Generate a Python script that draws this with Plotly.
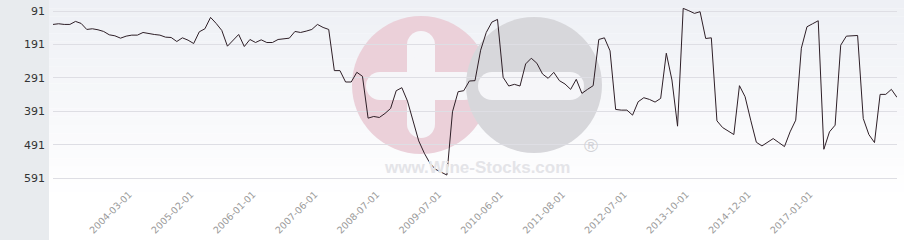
import plotly.graph_objects as go

DATES = [
    "2003-02-01", "2003-03-01", "2003-04-01", "2003-05-01", "2003-06-01", "2003-07-01", "2003-08-01",
    "2003-09-01", "2003-10-01", "2003-11-01", "2003-12-01", "2004-01-01", "2004-02-01", "2004-03-01",
    "2004-04-01", "2004-05-01", "2004-06-01", "2004-07-01", "2004-08-01", "2004-09-01", "2004-10-01",
    "2004-11-01", "2004-12-01", "2005-01-01", "2005-02-01",
    "2005-03-01", "2005-04-01", "2005-05-01", "2005-06-01", "2005-07-01", "2005-08-01", "2005-09-01",
    "2005-10-01", "2005-11-01", "2005-12-01", "2006-01-01",
    "2006-03-01", "2006-05-01", "2006-06-01", "2006-08-01", "2006-10-01", "2006-11-01", "2007-01-01",
    "2007-02-01", "2007-03-01", "2007-05-01", "2007-06-01",
    "2007-07-01", "2007-08-01", "2007-10-01", "2007-11-01", "2007-12-01", "2008-01-01", "2008-02-01",
    "2008-03-01", "2008-05-01", "2008-06-01", "2008-07-01",
    "2008-08-01", "2008-09-01", "2008-10-01", "2008-11-01", "2008-12-01", "2009-01-01", "2009-02-01",
    "2009-03-01", "2009-05-01", "2009-06-01", "2009-07-01",
    "2009-08-01", "2009-09-01", "2009-10-01", "2009-11-01", "2009-12-01", "2010-01-01", "2010-02-01",
    "2010-03-01", "2010-04-01", "2010-05-01", "2010-06-01",
    "2010-07-01", "2010-08-01", "2010-09-01", "2010-11-01", "2010-12-01", "2011-01-01", "2011-02-01",
    "2011-03-01", "2011-05-01", "2011-07-01", "2011-08-01",
    "2011-09-01", "2011-10-01", "2011-11-01", "2011-12-01", "2012-01-01", "2012-02-01", "2012-03-01",
    "2012-04-01", "2012-05-01", "2012-06-01", "2012-07-01",
    "2012-08-01", "2012-09-01", "2012-11-01", "2012-12-01", "2013-01-01", "2013-02-01", "2013-04-01",
    "2013-05-01", "2013-06-01", "2013-08-01", "2013-10-01",
    "2013-11-01", "2013-12-01", "2014-01-01", "2014-02-01", "2014-03-01", "2014-05-01", "2014-06-01",
    "2014-08-01", "2014-09-01", "2014-11-01", "2014-12-01",
    "2015-02-01", "2015-05-01", "2015-07-01", "2015-09-01", "2015-12-01", "2016-02-01", "2016-04-01",
    "2016-06-01", "2016-08-01", "2016-11-01", "2017-01-01",
    "2017-02-01", "2017-03-01", "2017-04-01", "2017-06-01", "2017-07-01", "2017-08-01", "2017-10-01",
    "2017-11-01", "2018-01-01", "2018-02-01", "2018-03-01", "2018-05-01", "2018-06-01", "2018-08-01",
    "2018-09-01", "2018-11-01",
]

RANKS = [
    131, 129, 131, 131, 122, 128, 146, 144, 147, 152,
    162, 165, 172, 166, 163, 163, 155, 159, 161, 163,
    169, 170, 182, 171, 178, 188, 153, 144, 110, 128,
    149, 196, 178, 161, 197, 176, 185, 177, 185, 185,
    176, 173, 172, 152, 155, 151, 146, 131, 140, 146,
    269, 269, 303, 303, 274, 286, 411, 406, 409, 397,
    382, 329, 320, 360, 417, 479, 516, 546, 564, 572,
    581, 392, 332, 329, 300, 299, 208, 155, 124, 116,
    289, 315, 310, 315, 249, 232, 247, 279, 292, 274,
    299, 309, 325, 295, 337, 325, 314, 176, 171, 210,
    385, 387, 387, 402, 362, 350, 355, 363, 352, 217,
    297, 435, 83, 90, 98, 93, 173, 171, 419, 439,
    450, 460, 314, 347, 417, 483, 494, 484, 472, 484,
    496, 452, 417, 202, 138, 129, 120, 504, 452, 432,
    193, 166, 165, 164, 412, 460, 484, 340, 340, 325,
    349,
]

X_TICKS = ["2004-03-01", "2005-02-01", "2006-01-01", "2007-06-01", "2008-07-01", "2009-07-01",
           "2010-06-01", "2011-08-01", "2012-07-01", "2013-10-01", "2014-12-01", "2017-01-01"]
Y_TICKS = [91, 191, 291, 391, 491, 591]

W, H = 904, 240
ML, MR, MT, MB = 53, 7, 0, 54
PW, PH = W - ML - MR, H - MT - MB
Y_TOP = 58.0
PX_PER_UNIT = 0.3347
Y_BOTTOM = Y_TOP + PH / PX_PER_UNIT


def px(x):
    return (x - ML) / PW


def py(y):
    return 1 - (y - MT) / PH


shapes = []
shapes.append(dict(type="rect", xref="paper", yref="paper", x0=px(0), x1=px(49), y0=py(H), y1=py(0),
                   fillcolor="#e8ebee", line=dict(width=0), layer="below"))
top = (238, 240, 245)
nb = 24
for k in range(nb):
    t = k / (nb - 1)
    c = tuple(round(top[j] + (255 - top[j]) * t) for j in range(3))
    y0 = 200 * k / nb
    y1 = 200 * (k + 1) / nb
    shapes.append(dict(type="rect", xref="paper", yref="paper", x0=px(49), x1=px(W), y0=py(y1), y1=py(y0),
                       fillcolor="rgb(%d,%d,%d)" % c, line=dict(width=0), layer="below"))


def circle(cx, cy, r, color):
    shapes.append(dict(type="circle", xref="paper", yref="paper", x0=px(cx - r), x1=px(cx + r),
                       y0=py(cy + r), y1=py(cy - r), fillcolor=color, line=dict(width=0), layer="below"))


def bar(x0, x1, y0, y1, color):
    horiz = (x1 - x0) > (y1 - y0)
    r = min(x1 - x0, y1 - y0) / 2
    shapes.append(dict(type="rect", xref="paper", yref="paper",
                       x0=px(x0 + (r if horiz else 0)), x1=px(x1 - (r if horiz else 0)),
                       y0=py(y1 - (0 if horiz else r)), y1=py(y0 + (0 if horiz else r)),
                       fillcolor=color, line=dict(width=0), layer="below"))
    if horiz:
        circle(x0 + r, (y0 + y1) / 2, r, color)
        circle(x1 - r, (y0 + y1) / 2, r, color)
    else:
        circle((x0 + x1) / 2, y0 + r, r, color)
        circle((x0 + x1) / 2, y1 - r, r, color)


WHITE = "#f6f6f9"
circle(421, 85, 69, "#ebd0d9")
bar(407, 435, 31, 138, WHITE)
bar(366, 478, 72, 100, WHITE)
circle(534, 85, 68, "#d7d7db")
bar(478, 584, 72, 100, WHITE)

fig = go.Figure()
fig.add_trace(go.Scatter(x=DATES, y=RANKS, mode="lines", line=dict(color="#2e1f27", width=1),
                         hoverinfo="x+y", showlegend=False))

fig.add_annotation(xref="paper", yref="paper", x=px(477), y=py(167), text="<b>www.Wine-Stocks.com</b>",
                   showarrow=False, font=dict(family="Liberation Sans", size=17, color="#e4e4e8"),
                   xanchor="center", yanchor="middle")
fig.add_annotation(xref="paper", yref="paper", x=px(591), y=py(145), text="®",
                   showarrow=False, font=dict(family="Liberation Sans", size=19, color="#d2d2d6"),
                   xanchor="center", yanchor="middle")

fig.update_layout(
    width=W, height=H,
    margin=dict(l=ML, r=MR, t=MT, b=MB, pad=0),
    paper_bgcolor="#ffffff", plot_bgcolor="rgba(0,0,0,0)",
    shapes=shapes,
    showlegend=False,
    xaxis=dict(type="category", range=[0, len(RANKS) - 1], tickmode="array", tickvals=X_TICKS,
               ticktext=X_TICKS, tickangle=-45, showgrid=False, zeroline=False, showline=False,
               ticks="", ticklabelstandoff=0, ticklabelshift=3,
               tickfont=dict(family="DejaVu Sans", size=9.5, color="#9a9a9a")),
    yaxis=dict(range=[Y_BOTTOM, Y_TOP], tickmode="array", tickvals=Y_TICKS, ticktext=[str(v) for v in Y_TICKS],
               showgrid=True, gridcolor="#dedee4", gridwidth=1, zeroline=False, showline=False, ticks="",
               ticklabelstandoff=7, tickfont=dict(family="DejaVu Sans", size=11, color="#333333")),
)

fig.write_html("out.html")
